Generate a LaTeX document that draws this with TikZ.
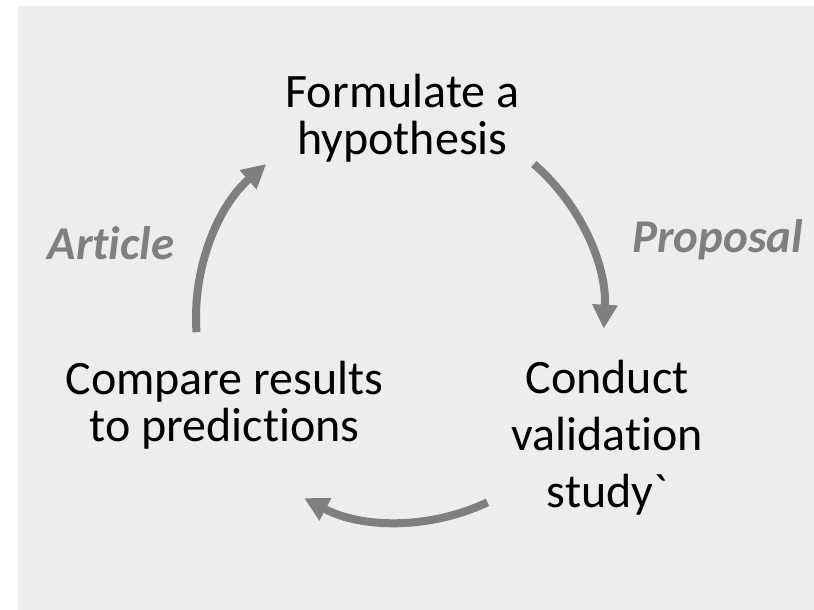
\documentclass[tikz,border=0pt]{standalone}
\usepackage{fontspec}
\setmainfont{Carlito}[Ligatures={TeXOff,NoCommon}]
\usetikzlibrary{arrows.meta}
\definecolor{bgc}{HTML}{EDEDED}
\definecolor{arcc}{HTML}{7F7F7F}
\begin{document}
\begin{tikzpicture}[x=1pt,y=1pt,
  lbl/.style={font=\fontsize{48}{47}\selectfont, align=center, inner sep=0pt, anchor=base},
  phase/.style={font=\fontsize{47}{48}\selectfont\bfseries\itshape, text=arcc, inner sep=0pt, anchor=base},
  cyc/.style={draw=arcc, line width=8pt, -{Triangle[length=24pt,width=24pt]}}]
\useasboundingbox (0,0) rectangle (814,610);
\fill[bgc] (18,0) rectangle (814,604);
\coordinate (c) at (400,292);
\node[lbl] (hyp) at (402.5,455) {Formulate a\\hypothesis};
\node[lbl] (cmp) at (224.5,168) {Compare results\\to predictions};
\node[lbl, font=\fontsize{48}{57}\selectfont] (val) at (607,102) {Conduct\\validation\\study`};
\node[phase] (art) at (111,350) {Article};
\node[phase] (prop) at (717.5,357) {Proposal};
\draw[cyc] ([shift=(49:204)]c) arc[start angle=49, end angle=-3, radius=204];
\draw[cyc] ([shift=(184:204)]c) arc[start angle=184, end angle=131, radius=204];
\draw[cyc] ([shift=(-64.6:204)]c) arc[start angle=-64.6, end angle=-118, radius=204];
\end{tikzpicture}
\end{document}
